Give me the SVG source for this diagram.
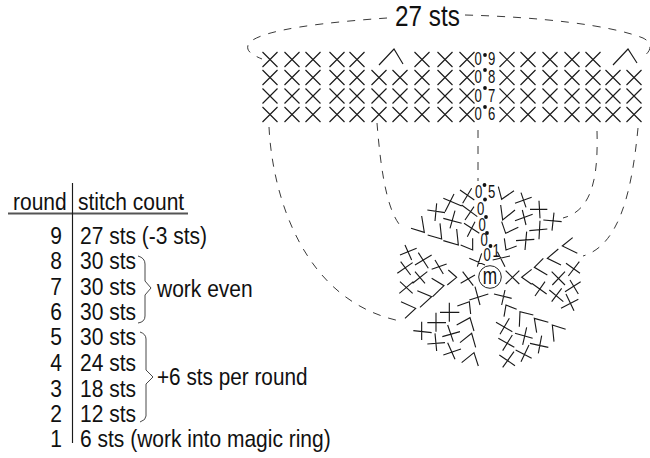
<svg xmlns="http://www.w3.org/2000/svg" width="650" height="458" viewBox="0 0 650 458">
<style>
text{font-family:"Liberation Sans",Arial,sans-serif;fill:#111}
.t{font-size:24px}
.e{text-anchor:end}
.d{font-size:17.5px}
.l{fill:none;stroke:#1a1a1a;stroke-width:1.15}
.z{fill:none;stroke:#1a1a1a;stroke-width:3.4}
.h{fill:none;stroke:#222;stroke-width:.9;stroke-dasharray:8 8}
.b{fill:none;stroke:#333;stroke-width:.9}
</style>
<defs>
<path id="x" d="M-7.5-7.5L7.5 7.5M-7.5 7.5L7.5-7.5" class="l"/>
<circle id="dot" r="1.9" fill="#111"/>
</defs>
<g id="connectors">
<path class="h" d="M387 18C330 22 262 29 249 43C245 50 250 54 262 59"/>
<path class="h" d="M465 15C540 17 610 25 643 38C655 44 650 54 640 58"/>
<path class="h" d="M269 127C272 190 300 300 400 321"/>
<path class="h" d="M377 123C380 160 385 205 399 224"/>
<path class="h" d="M478 130V181"/>
<path class="h" d="M597 131C598 170 595 210 563 218"/>
<path class="h" d="M638 128C632 190 620 245 583 256"/>
</g>
<g id="title"><text class="t" transform="translate(395 26) scale(.81 1)" style="font-size:30px">27 sts</text></g>
<g id="top-chart">
<g id="row9">
<use href="#x" x="270" y="59.5"/><use href="#x" x="292" y="59.5"/><use href="#x" x="313" y="59.5"/><use href="#x" x="337" y="59.5"/><use href="#x" x="357" y="59.5"/>
<path class="l" d="M379 65L394 49L403 64"/>
<use href="#x" x="422" y="59.5"/><use href="#x" x="445" y="59.5"/><use href="#x" x="467" y="59.5"/>
<use href="#x" x="507" y="59.5"/><use href="#x" x="528" y="59.5"/><use href="#x" x="550" y="59.5"/><use href="#x" x="572" y="59.5"/><use href="#x" x="593" y="59.5"/>
<path class="l" d="M613 65L628 49L637 63"/>
</g>
<g id="row8">
<use href="#x" x="270" y="77.5"/><use href="#x" x="292" y="77.5"/><use href="#x" x="313" y="77.5"/><use href="#x" x="337" y="77.5"/><use href="#x" x="357" y="77.5"/><use href="#x" x="379" y="77.5"/><use href="#x" x="400" y="77.5"/><use href="#x" x="422" y="77.5"/><use href="#x" x="445" y="77.5"/><use href="#x" x="467" y="77.5"/><use href="#x" x="507" y="77.5"/><use href="#x" x="528" y="77.5"/><use href="#x" x="550" y="77.5"/><use href="#x" x="572" y="77.5"/><use href="#x" x="593" y="77.5"/><use href="#x" x="613" y="77.5"/><use href="#x" x="634" y="77.5"/>
</g>
<g id="row7">
<use href="#x" x="270" y="96"/><use href="#x" x="292" y="96"/><use href="#x" x="313" y="96"/><use href="#x" x="337" y="96"/><use href="#x" x="357" y="96"/><use href="#x" x="379" y="96"/><use href="#x" x="400" y="96"/><use href="#x" x="422" y="96"/><use href="#x" x="445" y="96"/><use href="#x" x="467" y="96"/><use href="#x" x="507" y="96"/><use href="#x" x="528" y="96"/><use href="#x" x="550" y="96"/><use href="#x" x="572" y="96"/><use href="#x" x="593" y="96"/><use href="#x" x="613" y="96"/><use href="#x" x="634" y="96"/>
</g>
<g id="row6">
<use href="#x" x="270" y="114.5"/><use href="#x" x="292" y="114.5"/><use href="#x" x="313" y="114.5"/><use href="#x" x="337" y="114.5"/><use href="#x" x="357" y="114.5"/><use href="#x" x="379" y="114.5"/><use href="#x" x="400" y="114.5"/><use href="#x" x="422" y="114.5"/><use href="#x" x="445" y="114.5"/><use href="#x" x="467" y="114.5"/><use href="#x" x="507" y="114.5"/><use href="#x" x="528" y="114.5"/><use href="#x" x="550" y="114.5"/><use href="#x" x="572" y="114.5"/><use href="#x" x="593" y="114.5"/><use href="#x" x="613" y="114.5"/><use href="#x" x="634" y="114.5"/>
</g>
<g id="top-labels">
<text class="d" transform="translate(474.5 65) scale(.75 1)">0</text><use href="#dot" x="485" y="55"/><text class="d" transform="translate(488 65) scale(.75 1)">9</text>
<text class="d" transform="translate(474.5 83) scale(.75 1)">0</text><use href="#dot" x="485" y="70"/><text class="d" transform="translate(488 83) scale(.75 1)">8</text>
<text class="d" transform="translate(474.5 101.5) scale(.75 1)">0</text><use href="#dot" x="485" y="88"/><text class="d" transform="translate(488 101.5) scale(.75 1)">7</text>
<text class="d" transform="translate(474.5 120) scale(.75 1)">0</text><use href="#dot" x="485" y="107"/><text class="d" transform="translate(488 120) scale(.75 1)">6</text>
</g>
</g>
<g id="magic-ring">
<circle cx="490" cy="277" r="11.3" fill="none" stroke="#222" stroke-width="1"/>
<text transform="translate(490 284) scale(.72 1)" text-anchor="middle" style="font-size:24px">m</text>
</g>
<g id="round-labels">
<text class="d" transform="translate(475 198) scale(.75 1)">0</text><use href="#dot" x="484.5" y="185"/><text class="d" transform="translate(488 198) scale(.75 1)">5</text>
<text class="d" transform="translate(477 214.5) scale(.75 1)">0</text><use href="#dot" x="485" y="199.5"/>
<text class="d" transform="translate(478.5 231) scale(.75 1)">0</text><use href="#dot" x="486" y="217"/>
<text class="d" transform="translate(480.5 246) scale(.75 1)">0</text><use href="#dot" x="487" y="233"/>
<text class="d" transform="translate(483.5 260.5) scale(.75 1)">0</text><use href="#dot" x="490.5" y="246"/><text class="d" transform="translate(492.5 257) scale(.75 1)">1</text>
</g>
<g id="petal-upper-left" transform="translate(390 170) scale(.3333)">
<path class="z" d="M210 60L253 90M218 100L245 55M160 85L215 108M165 125L192 72M112 120L165 128M135 153L140 100M215 105L262 140M225 150L252 110M160 145L215 160M180 175L195 122M222 160L268 190M232 200L255 155M63 175L103 187L95 138M113 195L155 207L150 160M160 212L205 225L200 177M212 225L248 240L248 205M238 265L285 285M262 290L275 250"/>
</g>
<g id="petal-left" transform="translate(240 120) scale(.3333)">
<path class="z" d="M480 405L530 385M495 375L515 420M525 435L575 405M535 398L565 445M575 448L620 432M585 420L610 462M472 460L518 428M482 425L512 465M518 490L562 455M525 455L555 490M478 520L520 485M480 485L518 520M625 450L650 472L622 495M575 475L612 497L578 530M532 512L575 530L540 562M483 545L527 565L495 595M662 490L705 465M668 455L700 497"/>
</g>
<g id="petal-bottom-left" transform="translate(380 270) scale(.3333)">
<path class="z" d="M268 90L325 72M285 50L300 105M232 108L268 95L272 132M180 127L238 127M208 98L208 155M142 158L198 158M168 128L168 185M230 165L270 143L282 183M187 200L240 185M203 165L220 215M100 182L155 188M125 155L125 210M142 222L195 218M165 190L170 243M240 218L275 190L287 232M190 255L243 237M203 218L225 268M245 278L282 248L295 288"/>
</g>
<g id="petal-bottom-right" transform="translate(480 290) scale(.3333)">
<path class="z" d="M42 12L95 25M75 0L65 45M72 80L78 45L110 58M118 110L120 65L160 75M170 128L163 85L205 97M222 155L217 105L257 118M48 97L97 125M88 85L60 133M105 130L158 145M140 112L128 165M150 160L205 172M185 137L175 190M55 145L103 172M97 135L68 182M107 180L155 205M147 165L123 215M58 195L105 227M102 185L68 232M243 55L295 28M258 12L282 62"/>
</g>
<g id="petal-right" transform="translate(490 170) scale(.3333)">
<path class="z" d="M47 302L88 342M88 302L47 342M125 298L95 322L125 343M160 265L133 292L172 315M205 237L172 265L213 285M248 203L217 228L262 250M228 280L270 310M268 275L235 318M185 305L225 345M225 305L187 345M225 365L272 335M240 330L265 372M125 340L170 372M165 335L135 378M178 360L220 395M215 355L185 395"/>
</g>
<g id="petal-upper-right" transform="translate(490 170) scale(.3333)">
<path class="z" d="M25 50L35 88L72 62M32 105L38 150L75 120M35 155L47 190L85 172M43 205L48 240L80 228M75 100L125 82M93 68L108 112M120 118L172 118M147 92L150 145M160 150L215 155M192 128L186 182M75 152L128 133M97 120L108 165M118 182L172 177M150 152L147 208M78 212L133 208M110 185L105 240M8 270L60 258M22 245L45 290"/>
</g>
<g id="table">
<path d="M8 213.5H188" fill="none" stroke="#555" stroke-width="1.8"/>
<path d="M72.5 183V443" class="l"/>
<text class="t" transform="translate(13 210) scale(.875 1)">round</text>
<text class="t" transform="translate(78 210) scale(.875 1)">stitch count</text>
<text class="t e" transform="translate(62 244) scale(.875 1)">9</text>
<text class="t e" transform="translate(62 269) scale(.875 1)">8</text>
<text class="t e" transform="translate(62 295) scale(.875 1)">7</text>
<text class="t e" transform="translate(62 320) scale(.875 1)">6</text>
<text class="t e" transform="translate(62 345) scale(.875 1)">5</text>
<text class="t e" transform="translate(62 371) scale(.875 1)">4</text>
<text class="t e" transform="translate(62 397) scale(.875 1)">3</text>
<text class="t e" transform="translate(62 422) scale(.875 1)">2</text>
<text class="t e" transform="translate(62 447) scale(.875 1)">1</text>
<text class="t" transform="translate(80 244) scale(.875 1)">27 sts (-3 sts)</text>
<text class="t" transform="translate(80 269) scale(.875 1)">30 sts</text>
<text class="t" transform="translate(80 295) scale(.875 1)">30 sts</text>
<text class="t" transform="translate(80 320) scale(.875 1)">30 sts</text>
<text class="t" transform="translate(80 345) scale(.875 1)">30 sts</text>
<text class="t" transform="translate(80 371) scale(.875 1)">24 sts</text>
<text class="t" transform="translate(80 397) scale(.875 1)">18 sts</text>
<text class="t" transform="translate(80 422) scale(.875 1)">12 sts</text>
<text class="t" transform="translate(80 447) scale(.875 1)">6 sts (work into magic ring)</text>
<path class="b" d="M138 256Q145 258 145 264V281L151 288L145 295V316Q145 322 138 323"/>
<path class="b" d="M140 332Q146 334 146 339V370L153 377L146 384V416Q146 420 140 422"/>
<text class="t" transform="translate(157 297) scale(.875 1)">work even</text>
<text class="t" transform="translate(157 385) scale(.865 1)">+6 sts per round</text>
</g>
</svg>
